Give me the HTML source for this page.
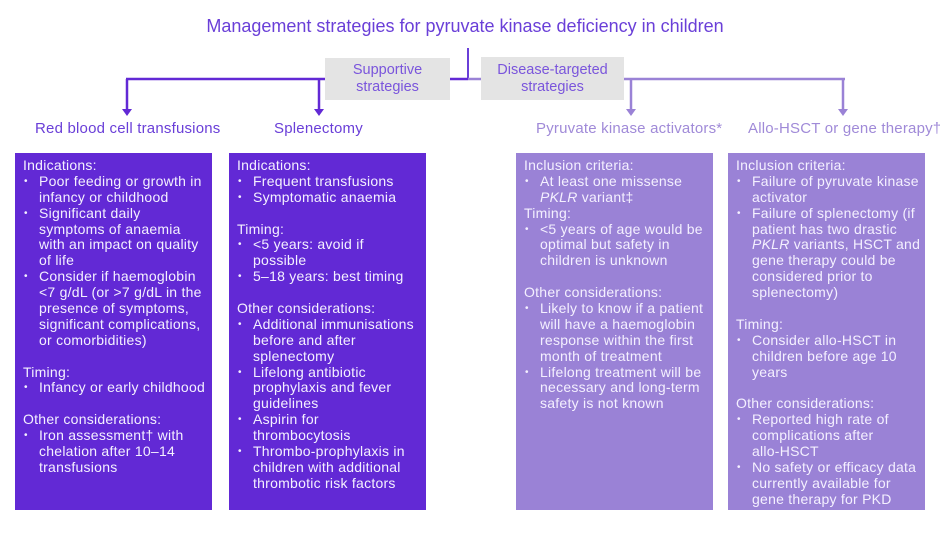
<!DOCTYPE html>
<html><head><meta charset="utf-8"><style>
body{margin:0;width:940px;height:535px;background:#fff;position:relative;font-family:"Liberation Sans",sans-serif;overflow:hidden}
.a{position:absolute}
.t{position:absolute;white-space:nowrap}
.box{position:absolute;top:153px;height:357px;width:197px;color:#f4f0ff;font-size:14px;letter-spacing:0.25px;overflow:hidden}
.box div{height:15.9px;line-height:15.9px;white-space:nowrap;padding-left:8px}
.box div.b{padding-left:24px;position:relative}
.box div.b.s::before{content:"•";position:absolute;left:9px;font-size:10px}
.box .top{height:5px}
.d{background:#6229d5}
.l{background:#9a82d6}
.lab{font-size:15px;top:120px;letter-spacing:0.2px}
</style></head><body>
<div class="t" style="left:0;width:930px;text-align:center;top:16px;font-size:18px;color:#6a3fd8">Management strategies for pyruvate kinase deficiency in children</div>
<svg class="a" style="left:0;top:0" width="940" height="150">
<line x1="468" y1="48" x2="468" y2="79" stroke="#6a3fd8" stroke-width="2"/>
<line x1="126" y1="79" x2="468" y2="79" stroke="#6229d5" stroke-width="2.5"/>
<line x1="468" y1="79" x2="845" y2="79" stroke="#9a82d6" stroke-width="2.5"/>
<line x1="127" y1="79" x2="127" y2="110" stroke="#6229d5" stroke-width="2.5"/>
<polygon points="122,109 132,109 127,116" fill="#6229d5"/>
<line x1="319" y1="79" x2="319" y2="110" stroke="#6229d5" stroke-width="2.5"/>
<polygon points="314,109 324,109 319,116" fill="#6229d5"/>
<line x1="631" y1="79" x2="631" y2="110" stroke="#9a82d6" stroke-width="2.5"/>
<polygon points="626,109 636,109 631,116" fill="#9a82d6"/>
<line x1="843" y1="79" x2="843" y2="110" stroke="#9a82d6" stroke-width="2.5"/>
<polygon points="838,109 848,109 843,116" fill="#9a82d6"/>
</svg>
<div class="a" style="left:325px;top:58px;width:125px;height:42px;background:#e4e4e4;color:#7a55dc;font-size:14.5px;text-align:center;line-height:16.5px;padding-top:4px;box-sizing:border-box">Supportive<br>strategies</div>
<div class="a" style="left:481px;top:57px;width:143px;height:43px;background:#e4e4e4;color:#7a55dc;font-size:14.5px;text-align:center;line-height:16.5px;padding-top:5px;box-sizing:border-box">Disease-targeted<br>strategies</div>
<div class="t lab" style="left:35px;color:#6a3fd8">Red blood cell transfusions</div>
<div class="t lab" style="left:274px;color:#6a3fd8">Splenectomy</div>
<div class="t lab" style="left:536px;color:#a08ad8">Pyruvate kinase activators*</div>
<div class="t lab" style="left:748px;color:#a08ad8">Allo-HSCT or gene therapy†</div>

<div class="box d" style="left:15px"><div class="top"></div>
<div>Indications:</div>
<div class="b s">Poor feeding or growth in</div>
<div class="b">infancy or childhood</div>
<div class="b s">Significant daily</div>
<div class="b">symptoms of anaemia</div>
<div class="b">with an impact on quality</div>
<div class="b">of life</div>
<div class="b s">Consider if haemoglobin</div>
<div class="b">&lt;7 g/dL (or &gt;7 g/dL in the</div>
<div class="b">presence of symptoms,</div>
<div class="b">significant complications,</div>
<div class="b">or comorbidities)</div>
<div></div>
<div>Timing:</div>
<div class="b s">Infancy or early childhood</div>
<div></div>
<div>Other considerations:</div>
<div class="b s">Iron assessment† with</div>
<div class="b">chelation after 10–14</div>
<div class="b">transfusions</div>
</div>

<div class="box d" style="left:229px"><div class="top"></div>
<div>Indications:</div>
<div class="b s">Frequent transfusions</div>
<div class="b s">Symptomatic anaemia</div>
<div></div>
<div>Timing:</div>
<div class="b s">&lt;5 years: avoid if</div>
<div class="b">possible</div>
<div class="b s">5–18 years: best timing</div>
<div></div>
<div>Other considerations:</div>
<div class="b s">Additional immunisations</div>
<div class="b">before and after</div>
<div class="b">splenectomy</div>
<div class="b s">Lifelong antibiotic</div>
<div class="b">prophylaxis and fever</div>
<div class="b">guidelines</div>
<div class="b s">Aspirin for</div>
<div class="b">thrombocytosis</div>
<div class="b s">Thrombo-prophylaxis in</div>
<div class="b">children with additional</div>
<div class="b">thrombotic risk factors</div>
</div>

<div class="box l" style="left:516px"><div class="top"></div>
<div>Inclusion criteria:</div>
<div class="b s">At least one missense</div>
<div class="b"><i>PKLR</i> variant‡</div>
<div>Timing:</div>
<div class="b s">&lt;5 years of age would be</div>
<div class="b">optimal but safety in</div>
<div class="b">children is unknown</div>
<div></div>
<div>Other considerations:</div>
<div class="b s">Likely to know if a patient</div>
<div class="b">will have a haemoglobin</div>
<div class="b">response within the first</div>
<div class="b">month of treatment</div>
<div class="b s">Lifelong treatment will be</div>
<div class="b">necessary and long-term</div>
<div class="b">safety is not known</div>
</div>

<div class="box l" style="left:728px"><div class="top"></div>
<div>Inclusion criteria:</div>
<div class="b s">Failure of pyruvate kinase</div>
<div class="b">activator</div>
<div class="b s">Failure of splenectomy (if</div>
<div class="b">patient has two drastic</div>
<div class="b"><i>PKLR</i> variants, HSCT and</div>
<div class="b">gene therapy could be</div>
<div class="b">considered prior to</div>
<div class="b">splenectomy)</div>
<div></div>
<div>Timing:</div>
<div class="b s">Consider allo-HSCT in</div>
<div class="b">children before age 10</div>
<div class="b">years</div>
<div></div>
<div>Other considerations:</div>
<div class="b s">Reported high rate of</div>
<div class="b">complications after</div>
<div class="b">allo-HSCT</div>
<div class="b s">No safety or efficacy data</div>
<div class="b">currently available for</div>
<div class="b">gene therapy for PKD</div>
</div>
</body></html>
